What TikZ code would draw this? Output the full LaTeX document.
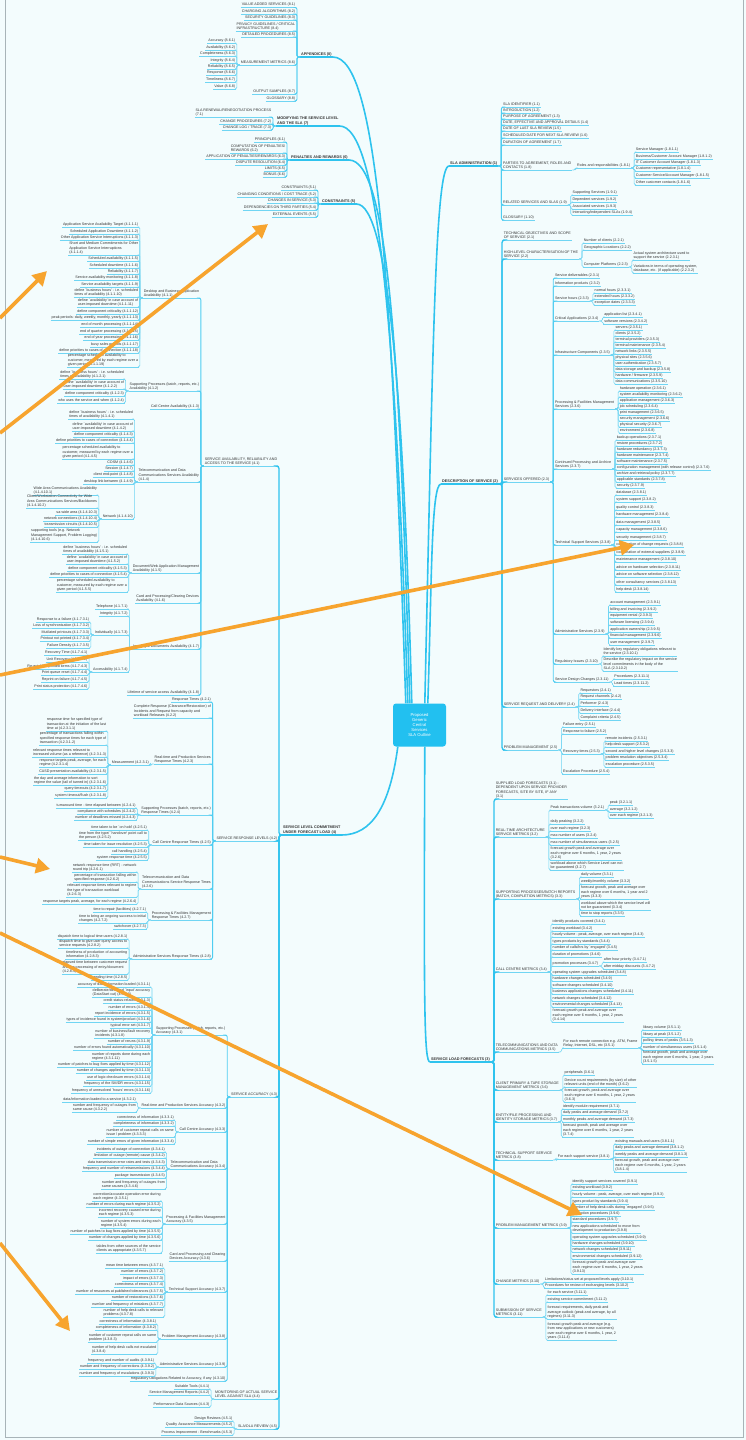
\documentclass[tikz,border=0pt]{standalone}
\usepackage{fontspec}
\newfontfamily\lsans{Liberation Sans}
\usetikzlibrary{calc,arrows.meta}
\definecolor{bg}{HTML}{F3FCFD}
\definecolor{cyA}{HTML}{2EC3EE}
\definecolor{cyB}{HTML}{4FCDF1}
\definecolor{cyC}{HTML}{70D5F3}
\definecolor{ctrfill}{HTML}{22C0F0}
\definecolor{txt}{HTML}{333333}
\definecolor{org}{HTML}{F7A42E}
\definecolor{framec}{HTML}{A8B4B8}
\newcommand\lff{\lsans\fontsize{3.65}{4.4}\selectfont}
\newcommand\mff{\lsans\bfseries\fontsize{3.8}{4.7}\selectfont}
\tikzset{
  ul/.style={draw=cyC, line width=0.6pt},
  lf/.style={inner xsep=0.8pt, inner ysep=0.6pt, font=\lff, text=txt, align=left,
    append after command={(\tikzlastnode.south west) edge[ul] (\tikzlastnode.south east)}},
  mlbl/.style={inner xsep=1pt, inner ysep=0.8pt, font=\mff, text=txt, align=left,
    append after command={(\tikzlastnode.south west) edge[draw=cyA,line width=1.2pt] (\tikzlastnode.south east)}},
  cn/.style={draw=cyC, line width=0.6pt, rounded corners=1.5pt},
  cnB/.style={draw=cyB, line width=0.9pt, rounded corners=2pt},
  cnA/.style={draw=cyA, line width=1.3pt, rounded corners=2.5pt},
  mainc/.style={draw=cyA, line width=1.6pt},
  oarr/.style={draw=org, line width=3.6pt, -{Triangle[length=14pt,width=15pt]}},
  ctrbox/.style={fill=ctrfill, rounded corners=3pt, minimum width=53pt, minimum height=43pt,
    text=white, font=\lsans\fontsize{4.2}{5.2}\selectfont, align=center, inner sep=1pt},
}
\newcounter{kc}
\newcommand\setP[1]{\def\curP{#1}\setcounter{kc}{0}}
\newcommand\kL[3][cn]{\stepcounter{kc}%
  \path (\curP.south west) ++(-3,0) coordinate (tk) (0,#2) coordinate (ty);
  \node[lf,anchor=south east] (\curP-\arabic{kc}) at ($(tk |- ty)+(-0.8,0)$) {#3};
  \draw[#1] (\curP.south west) -- (tk) |- (\curP-\arabic{kc}.south east);}
\newcommand\kR[3][cn]{\stepcounter{kc}%
  \path (\curP.south east) ++(3,0) coordinate (tk) (0,#2) coordinate (ty);
  \node[lf,anchor=south west] (\curP-\arabic{kc}) at ($(tk |- ty)+(0.8,0)$) {#3};
  \draw[#1] (\curP.south east) -- (tk) |- (\curP-\arabic{kc}.south west);}
\begin{document}
\begin{tikzpicture}[x=1pt,y=-1pt]
\path[fill=bg,use as bounding box] (0,0) rectangle (746,1440);
\draw[framec,line width=0.8pt] (5,0) -- (5,1437.5) -- (743,1437.5) -- (743,0);

% centre
\node[ctrbox] (ctr) at (419.5,725) {Proposed\\Generic\\Central\\Services\\SLA Outline};

% main labels
\node[mlbl,anchor=south west] (L8) at (300,57) {APPENDICES (8)};
\node[mlbl,anchor=south west] (L7) at (276,126) {MODIFYING THE SERVICE LEVEL\\AND THE SLA (7)};
\node[mlbl,anchor=south west] (L6) at (290,160) {PENALTIES AND REWARDS (6)};
\node[mlbl,anchor=south west] (L5) at (321,204) {CONSTRAINTS (5)};
\node[mlbl,anchor=south west] (L1) at (449,166) {SLA ADMINISTRATION (1)};
\node[mlbl,anchor=south west] (L2) at (441,484) {DESCRIPTION OF SERVICE (2)};
\node[mlbl,anchor=south west] (L4) at (282,835) {SERVICE LEVEL COMMITMENT\\UNDER FORECAST LOAD (4)};
\node[mlbl,anchor=south west] (L3) at (430,1062) {SERVICE LOAD FORECASTS (3)};

% main connectors
\coordinate (c8) at ($(ctr.north west)+(13,0)$);
\coordinate (c7) at ($(ctr.north west)+(15,0)$);
\coordinate (c6) at ($(ctr.north west)+(17,0)$);
\coordinate (c5) at ($(ctr.north west)+(19,0)$);
\coordinate (c1) at ($(ctr.north west)+(32,0)$);
\coordinate (c2) at ($(ctr.north west)+(35,0)$);
\coordinate (c4) at ($(ctr.south west)+(5,0)$);
\coordinate (c3) at ($(ctr.south west)+(32,0)$);
\draw[mainc] (c8) .. controls +(-14,-420) and +(45,0) .. (L8.south east);
\draw[mainc] (c7) .. controls +(-12,-380) and +(38,0) .. (L7.south east);
\draw[mainc] (c6) .. controls +(-10,-340) and +(40,0) .. (L6.south east);
\draw[mainc] (c5) .. controls +(-8,-300) and +(32,0) .. (L5.south east);
\draw[mainc] (c1) .. controls +(8,-350) and +(-14,0) .. (L1.south west);
\draw[mainc] (c2) .. controls +(4,-120) and +(-10,0) .. (L2.south west);
\draw[mainc] (c4) .. controls +(-8,60) and +(30,0) .. (L4.south east);
\draw[mainc] (c3) .. controls +(-1,260) and +(-6,0) .. (L3.south west);

% ===== (8) =====
\setP{L8}
\kL[cnB]{7.5}{VALUE ADDED SERVICES (8.1)}
\kL[cnB]{14}{CHARGING ALGORITHMS (8.2)}
\kL[cnB]{20}{SECURITY GUIDELINES (8.3)}
\kL[cnB]{31}{PRIVACY GUIDELINES / CRITICAL\\INFRASTRUCTURE (8.4)}
\kL[cnB]{37}{DETAILED PROCEDURES (8.5)}
\kL[cnB]{65}{MEASUREMENT METRICS (8.6)}
\kL[cnB]{94}{OUTPUT SAMPLES (8.7)}
\kL[cnB]{101}{GLOSSARY (8.8)}
\setP{L8-6}
\kL{43}{Accuracy (8.6.1)}
\kL{50}{Availability (8.6.2)}
\kL{56}{Completeness (8.6.3)}
\kL{63}{Integrity (8.6.4)}
\kL{69}{Reliability (8.6.5)}
\kL{75}{Response (8.6.6)}
\kL{82}{Timeliness (8.6.7)}
\kL{89}{Value (8.6.8)}

% ===== (7) =====
\setP{L7}
\kL[cnB]{117}{SLA RENEWAL/RENEGOTIATION PROCESS\\(7.1)}
\kL[cnB]{124}{CHANGE PROCEDURES (7.2)}
\kL[cnB]{130}{CHANGE LOG / TRACE (7.3)}

% ===== (6) =====
\setP{L6}
\kL[cnB]{142}{PRINCIPLES (6.1)}
\kL[cnB]{153}{COMPUTATION OF PENALTIES/\\REWARDS (6.2)}
\kL[cnB]{159}{APPLICATION OF PENALTIES/REWARDS (6.3)}
\kL[cnB]{165}{DISPUTE RESOLUTION (6.4)}
\kL[cnB]{171}{LIMITS (6.5)}
\kL[cnB]{177}{BONUS (6.6)}

% ===== (5) =====
\setP{L5}
\kL[cnB]{190}{CONSTRAINTS (5.1)}
\kL[cnB]{197}{CHANGING CONDITIONS / COST TRACE (5.2)}
\kL[cnB]{203}{CHANGES IN SERVICE (5.3)}
\kL[cnB]{210}{DEPENDENCIES ON THIRD PARTIES (5.4)}
\kL[cnB]{217}{EXTERNAL EVENTS (5.5)}

% ===== (1) =====
\setP{L1}
\kR[cnB]{107}{SLA IDENTIFIER (1.1)}
\kR[cnB]{113}{INTRODUCTION (1.2)}
\kR[cnB]{119}{PURPOSE OF AGREEMENT (1.3)}
\kR[cnB]{125}{DATE, EFFECTIVE AND APPROVAL DETAILS (1.4)}
\kR[cnB]{131}{DATE OF LAST SLA REVIEW (1.5)}
\kR[cnB]{138}{SCHEDULED DATE FOR NEXT SLA REVIEW (1.6)}
\kR[cnB]{145}{DURATION OF AGREEMENT (1.7)}
\kR[cnB]{170}{PARTIES TO AGREEMENT, ROLES AND\\CONTACTS (1.8)}
\kR[cnB]{205}{RELATED SERVICES AND SLAS (1.9)}
\kR[cnB]{220}{GLOSSARY (1.10)}
\setP{L1-8}
\kR{168}{Roles and responsibilities (1.8.1)}
\setP{L1-8-1}
\kR{152}{Service Manager (1.8.1.1)}
\kR{159}{Business/Customer Account Manager (1.8.1.2)}
\kR{165}{IT Customer Account Manager (1.8.1.3)}
\kR{171}{Customer representative (1.8.1.4)}
\kR{178}{Customer Service/Account Manager (1.8.1.5)}
\kR{185}{Other customer contacts (1.8.1.6)}
\setP{L1-9}
\kR{195}{Supporting Services (1.9.1)}
\kR{202}{Dependent services (1.9.2)}
\kR{209}{Associated services (1.9.3)}
\kR{215}{Interacting/independent SLAs (1.9.4)}

% ===== (2) =====
\setP{L2}
\kR[cnA]{240}{TECHNICAL OBJECTIVES AND SCOPE\\OF SERVICE (2.1)}
\kR[cnA]{259}{HIGH-LEVEL CHARACTERISATION OF THE\\SERVICE (2.2)}
\kR[cnA]{482}{SERVICES OFFERED (2.3)}
\kR[cnA]{707}{SERVICE REQUEST AND DELIVERY (2.4)}
\kR[cnA]{750}{PROBLEM MANAGEMENT (2.5)}
\setP{L2-2}
\kR{243}{Number of clients (2.2.1)}
\kR{250}{Geographic Locations (2.2.2)}
\kR{267}{Computer Platforms (2.2.3)}
\setP{L2-2-3}
\kR{260}{Actual system architecture used to\\support the service (2.2.3.1)}
\kR{273}{Variations in terms of operating system,\\database, etc. (if applicable) (2.2.3.2)}
\setP{L2-3}
\kR[cnB]{278}{Service deliverables (2.3.1)}
\kR[cnB]{286}{Information products (2.3.2)}
\kR[cnB]{301}{Service hours (2.3.3)}
\kR[cnB]{321}{Critical Applications (2.3.4)}
\kR[cnB]{355}{Infrastructure Components (2.3.5)}
\kR[cnB]{409}{Processing \& Facilities Management\\Services (2.3.6)}
\kR[cnB]{469}{Continued Processing and Archive\\Services (2.3.7)}
\kR[cnB]{545}{Technical Support Services (2.3.8)}
\kR[cnB]{634}{Administrative Services (2.3.9)}
\kR[cnB]{664}{Regulatory Issues (2.3.10)}
\kR[cnB]{682}{Service Design Changes (2.3.11)}
\setP{L2-3-3}
\kR{293}{normal hours (2.3.3.1)}
\kR{299}{extended hours (2.3.3.2)}
\kR{305}{exception dates (2.3.3.3)}
\setP{L2-3-4}
\kR{317}{application list (2.3.4.1)}
\kR{324}{software versions (2.3.4.2)}
\setP{L2-3-5}
\kR{330}{servers (2.3.5.1)}
\kR{336}{clients (2.3.5.2)}
\kR{342}{terminal providers (2.3.5.3)}
\kR{348}{terminal maintenance (2.3.5.4)}
\kR{354}{network links (2.3.5.5)}
\kR{360}{physical sites (2.3.5.6)}
\kR{366}{user authentication (2.3.5.7)}
\kR{372}{data storage and backup (2.3.5.8)}
\kR{378}{hardware / firmware (2.3.5.9)}
\kR{384}{data communications (2.3.5.10)}
\setP{L2-3-6}
\kR{391}{hardware operation (2.3.6.1)}
\kR{397}{system availability monitoring (2.3.6.2)}
\kR{403}{application management (2.3.6.3)}
\kR{409}{job scheduling (2.3.6.4)}
\kR{415}{print management (2.3.6.5)}
\kR{421}{security management (2.3.6.6)}
\kR{427}{physical security (2.3.6.7)}
\kR{433}{environment (2.3.6.8)}
\setP{L2-3-7}
\kR{440}{backup operations (2.3.7.1)}
\kR{446}{restore procedures (2.3.7.2)}
\kR{452}{hardware redundancy (2.3.7.3)}
\kR{458}{hardware maintenance (2.3.7.4)}
\kR{464}{software maintenance (2.3.7.5)}
\kR{470}{configuration management (with release control) (2.3.7.6)}
\kR{476}{archive and retrieval policy (2.3.7.7)}
\kR{482}{applicable standards (2.3.7.8)}
\kR{488}{security (2.3.7.9)}
\setP{L2-3-8}
\kR{495}{database (2.3.8.1)}
\kR{502}{system support (2.3.8.2)}
\kR{510}{quality control (2.3.8.3)}
\kR{517}{hardware management (2.3.8.4)}
\kR{525}{data management (2.3.8.5)}
\kR{532}{capacity management (2.3.8.6)}
\kR{540}{security management (2.3.8.7)}
\kR{547}{coordination of change requests (2.3.8.8)}
\kR{555}{coordination of external suppliers (2.3.8.9)}
\kR{562}{maintenance management (2.3.8.10)}
\kR{570}{advice on hardware selection (2.3.8.11)}
\kR{577}{advice on software selection (2.3.8.12)}
\kR{585}{other consultancy services (2.3.8.13)}
\kR{592}{help desk (2.3.8.14)}
\setP{L2-3-9}
\kR{605}{account management (2.3.9.1)}
\kR{612}{billing and invoicing (2.3.9.2)}
\kR{618}{equipment rental (2.3.9.3)}
\kR{625}{software licensing (2.3.9.4)}
\kR{632}{application ownership (2.3.9.5)}
\kR{638}{financial management (2.3.9.6)}
\kR{645}{user management (2.3.9.7)}
\setP{L2-3-10}
\kR{656}{Identify key regulatory obligations relevant to\\the service (2.3.10.1)}
\kR{671}{Describe the regulatory impact on the service\\level commitments in the body of the\\SLA (2.3.10.2)}
\setP{L2-3-11}
\kR{679}{Procedures (2.3.11.1)}
\kR{686}{Lead times (2.3.11.2)}
\setP{L2-4}
\kR{693}{Requestors (2.4.1)}
\kR{699}{Request channels (2.4.2)}
\kR{706}{Performer (2.4.3)}
\kR{713}{Delivery interface (2.4.4)}
\kR{720}{Complaint criteria (2.4.5)}
\setP{L2-5}
\kR{727}{Failure entry (2.5.1)}
\kR{734}{Response to failure (2.5.2)}
\kR{754}{Recovery times (2.5.3)}
\kR{774}{Escalation Procedure (2.5.4)}
\setP{L2-5-3}
\kR{741}{remote incidents (2.5.3.1)}
\kR{747}{help desk support (2.5.3.2)}
\kR{754}{second and higher level changes (2.5.3.3)}
\kR{760}{problem resolution objectives (2.5.3.4)}
\kR{767}{escalation procedure (2.5.3.5)}

% ===== (3) =====
\setP{L3}
\kR[cnA]{799}{SUPPLIED LOAD FORECASTS (3.1) -\\DEPENDENT UPON SERVICE PROVIDER\\FORECASTS, SITE BY SITE, IF ANY\\(3.1)}
\kR[cnA]{837}{REAL-TIME ARCHITECTURE\\SERVICE METRICS (3.2)}
\kR[cnA]{899}{SUPPORTING PROCESSES/BATCH REPORTS\\(BATCH, COMPLETION METRICS) (3.3)}
\kR[cnA]{972}{CALL CENTRE METRICS (3.4)}
\kR[cnA]{1052}{TELECOMMUNICATIONS AND DATA\\COMMUNICATIONS METRICS (3.5)}
\kR[cnA]{1090}{CLIENT PRIMARY \& TAPE STORAGE\\MANAGEMENT METRICS (3.6)}
\kR[cnA]{1122}{ENTITY/FILE PROCESSING AND\\IDENTITY STORAGE METRICS (3.7)}
\kR[cnA]{1160}{TECHNICAL SUPPORT SERVICE\\METRICS (3.8)}
\kR[cnA]{1228}{PROBLEM MANAGEMENT METRICS (3.9)}
\kR[cnA]{1284}{CHANGE METRICS (3.10)}
\kR[cnA]{1317}{SUBMISSION OF SERVICE\\METRICS (3.11)}
\setP{L3-2}
\kR{810}{Peak transactions volume (3.2.1)}
\kR{824}{daily peaking (3.2.2)}
\kR{831}{over each regime (3.2.3)}
\kR{838}{max number of users (3.2.4)}
\kR{845}{max number of simultaneous users (3.2.5)}
\kR{860}{forecast growth peak and average over\\each regime over 6 months, 1 year, 2 years\\(3.2.6)}
\kR{870}{workload above which Service Level can not\\be guaranteed (3.2.7)}
\setP{L3-2-1}
\kR{805}{peak (3.2.1.1)}
\kR{812}{average (3.2.1.2)}
\kR{818}{over each regime (3.2.1.3)}
\setP{L3-3}
\kR{877}{daily volume (3.3.1)}
\kR{884}{weekly/monthly volume (3.3.2)}
\kR{899}{forecast growth, peak and average over\\each regime over 6 months, 1 year and 2\\years (3.3.3)}
\kR{910}{workload above which the service level will\\not be guaranteed (3.3.4)}
\kR{916}{time to stop reports (3.3.5)}
\setP{L3-4}
\kR{924}{identify products covered (3.4.1)}
\kR{931}{existing workload (3.4.2)}
\kR{937}{hourly volume - peak, average, over each regime (3.4.3)}
\kR{944}{types products by standards (3.4.4)}
\kR{950}{number of calls/hrs by `engaged' (3.4.5)}
\kR{957}{duration of promotions (3.4.6)}
\kR{966}{promotion processes (3.4.7)}
\kR{975}{operating system upgrades scheduled (3.4.8)}
\kR{981}{hardware changes scheduled (3.4.9)}
\kR{988}{software changes scheduled (3.4.10)}
\kR{994}{business applications changes scheduled (3.4.11)}
\kR{1001}{network changes scheduled (3.4.12)}
\kR{1007}{environmental changes scheduled (3.4.13)}
\kR{1022}{forecast growth peak and average over\\each regime over 6 months, 1 year, 2 years\\(3.4.14)}
\setP{L3-4-7}
\kR{962}{after hour priority (3.4.7.1)}
\kR{969}{after midday discounts (3.4.7.2)}
\setP{L3-5}
\kR{1048}{For each remote connection e.g. ATM, Frame\\Relay, Internet, DSL, etc (3.5.1)}
\setP{L3-5-1}
\kR{1030}{library volume (3.5.1.1)}
\kR{1037}{library at peak (3.5.1.2)}
\kR{1043}{polling times of peaks (3.5.1.3)}
\kR{1050}{number of simultaneous users (3.5.1.4)}
\kR{1064}{forecast growth, peak and average over\\each regime over 6 months, 1 year, 2 years\\(3.5.1.5)}
\setP{L3-6}
\kR{1075}{peripherals (3.6.1)}
\kR{1087}{Device count requirements (by size) of other\\relevant units (end of the month) (3.6.2)}
\kR{1102}{forecast growth, peak and average over\\each regime over 6 months, 1 year, 2 years\\(3.6.3)}
\setP{L3-7}
\kR{1109}{identify module requirement (3.7.1)}
\kR{1115}{daily peaks and average demand (3.7.2)}
\kR{1122}{monthly peaks and average demand (3.7.3)}
\kR{1137}{forecast growth, peak and average over\\each regime over 6 months, 1 year, 2 years\\(3.7.4)}
\setP{L3-8}
\kR{1159}{For each support service (3.8.1)}
\setP{L3-8-1}
\kR{1144}{existing manuals and users (3.8.1.1)}
\kR{1150}{daily peaks and average demand (3.8.1.2)}
\kR{1157}{weekly peaks and average demand (3.8.1.3)}
\kR{1172}{forecast growth, peak and average over\\each regime over 6 months, 1 year, 2 years\\(3.8.1.4)}
\setP{L3-9}
\kR{1184}{identify support services covered (3.9.1)}
\kR{1190}{existing workload (3.9.2)}
\kR{1197}{hourly volume - peak, average, over each regime (3.9.3)}
\kR{1204}{types product by standards (3.9.4)}
\kR{1210}{number of help desk calls during `engaged' (3.9.5)}
\kR{1216}{promotion procedures (3.9.6)}
\kR{1222}{standard procedures (3.9.7)}
\kR{1233}{new applications scheduled to move from\\development to production (3.9.8)}
\kR{1240}{operating system upgrades scheduled (3.9.9)}
\kR{1246}{hardware changes scheduled (3.9.10)}
\kR{1252}{network changes scheduled (3.9.11)}
\kR{1259}{environmental changes scheduled (3.9.12)}
\kR{1274}{forecast growth peak and average over\\each regime over 6 months, 1 year, 2 years\\(3.9.13)}
\setP{L3-10}
\kR{1282}{Limitations/status set at proposed levels apply (3.10.1)}
\kR{1288}{Procedures for review of exchanging levels (3.10.2)}
\setP{L3-11}
\kR{1295}{for each service (3.11.1)}
\kR{1302}{existing service commitment (3.11.2)}
\kR{1319}{forecast requirements, daily peak and\\average outlook (peak and average, by all\\regimes) (3.11.3)}
\kR{1340}{forecast growth peak and average (e.g.\\from new applications or new customers)\\over each regime over 6 months, 1 year, 2\\years (3.11.4)}

% ===== (4) =====
\setP{L4}
\kL[cnA]{466}{SERVICE AVAILABILITY, RELIABILITY AND\\ACCESS TO THE SERVICE (4.1)}
\kL[cnA]{841}{SERVICE RESPONSE LEVELS (4.2)}
\kL[cnA]{1097}{SERVICE ACCURACY (4.3)}
\kL[cnA]{1399}{MONITORING OF ACTUAL SERVICE\\LEVEL AGAINST SLA (4.4)}
\kL[cnA]{1429}{SLA/OLA REVIEW (4.5)}
\setP{L4-1}
\kL[cnB]{298}{Desktop and Business Application\\Availability (4.1.1)}
\kL[cnB]{391}{Supporting Processes (batch, reports, etc.)\\Availability (4.1.2)}
\kL[cnB]{409}{Call Centre Availability (4.1.3)}
\kL[cnB]{482}{Telecommunication and Data\\Communications Services Availability\\(4.1.4)}
\kL[cnB]{573}{Document/Web Application Management\\Availability (4.1.5)}
\kL[cnB]{603}{Card and Processing/Clearing Devices\\Availability (4.1.6)}
\kL[cnB]{649}{Imaging \& Documents Availability (4.1.7)}
\kL[cnB]{695}{Lifetime of service access Availability (4.1.8)}
\setP{L4-1-1}
\kL{227}{Application Service Availability Target (4.1.1.1)}
\kL{234}{Scheduled Application Downtime (4.1.1.2)}
\kL{240}{Other Application Service Interruptions (4.1.1.3)}
\kL{255}{Short and Medium Commitments for Other\\Application Service Interruptions\\(4.1.1.4)}
\kL{261}{Scheduled availability (4.1.1.5)}
\kL{268}{Scheduled downtime (4.1.1.6)}
\kL{274}{Reliability (4.1.1.7)}
\kL{280}{Service availability monitoring (4.1.1.8)}
\kL{287}{Service availability targets (4.1.1.9)}
\kL{297}{define `business hours' - i.e. scheduled\\times of availability (4.1.1.10)}
\kL{307}{define `availability' in case account of\\user-imposed downtime (4.1.1.11)}
\kL{314}{define component criticality (4.1.1.12)}
\kL{320}{peak periods: daily, weekly, monthly, yearly (4.1.1.13)}
\kL{327}{end of month processing (4.1.1.14)}
\kL{334}{end of quarter processing (4.1.1.15)}
\kL{340}{end of year processing (4.1.1.16)}
\kL{347}{busy sales periods (4.1.1.17)}
\kL{353}{define priorities to cases of connection (4.1.1.18)}
\kL{367}{percentage scheduled availability to\\customer, measured by each regime over a\\given period (4.1.1.19)}
\setP{L4-1-2}
\kL{379}{define `business hours' - i.e. scheduled\\times of availability (4.1.2.1)}
\kL{389}{define `availability' in case account of\\user-imposed downtime (4.1.2.2)}
\kL{396}{define component criticality (4.1.2.3)}
\kL{403}{who uses the service and when (4.1.2.4)}
\setP{L4-1-4}
\kL{419}{define `business hours' - i.e. scheduled\\times of availability (4.1.4.1)}
\kL{431}{define `availability' in case account of\\user-imposed downtime (4.1.4.2)}
\kL{437}{define component criticality (4.1.4.3)}
\kL{443}{define priorities to cases of connection (4.1.4.4)}
\kL{459}{percentage scheduled availability to\\customer, measured by each regime over a\\given period (4.1.4.5)}
\kL{465}{COSM (4.1.4.6)}
\kL{471}{Session (4.1.4.7)}
\kL{477}{client end-point (4.1.4.8)}
\kL{484}{desktop link between (4.1.4.9)}
\kL{519}{Network (4.1.4.10)}
\setP{L4-1-4-10}
\kL{495}{Wide Area Communications Availability\\(4.1.4.10.1)}
\kL{508}{Client/Workstation Connectivity for Wide\\Area Communications Services/Backbones\\(4.1.4.10.2)}
\kL{515}{sa-wide area (4.1.4.10.3)}
\kL{521}{network connections (4.1.4.10.4)}
\kL{527}{transmission circuits (4.1.4.10.5)}
\kL{542}{supporting tools (e.g. Network\\Management Support, Problem Logging)\\(4.1.4.10.6)}
\setP{L4-1-5}
\kL{554}{define `business hours' - i.e. scheduled\\times of availability (4.1.5.1)}
\kL{564}{define `availability' in case account of\\user-imposed downtime (4.1.5.2)}
\kL{571}{define component criticality (4.1.5.3)}
\kL{577}{define priorities to cases of connection (4.1.5.4)}
\kL{592}{percentage scheduled availability to\\customer, measured by each regime over a\\given period (4.1.5.5)}
\setP{L4-1-7}
\kL{609}{Telephone (4.1.7.1)}
\kL{616}{Integrity (4.1.7.2)}
\kL{635}{Individually (4.1.7.3)}
\kL{672}{Accessibility (4.1.7.4)}
\setP{L4-1-7-3}
\kL{622}{Response to a failure (4.1.7.3.1)}
\kL{628}{Loss of synchronisation (4.1.7.3.2)}
\kL{635}{Mutilated printouts (4.1.7.3.3)}
\kL{641}{Printout not printed (4.1.7.3.4)}
\kL{648}{Failure Density (4.1.7.3.5)}
\setP{L4-1-7-4}
\kL{655}{Recovery Time (4.1.7.4.1)}
\kL{662}{Unit Recovery (4.1.7.4.2)}
\kL{669}{Re-establish printed items (4.1.7.4.3)}
\kL{675}{Print queue reset (4.1.7.4.4)}
\kL{682}{Reprint on failure (4.1.7.4.5)}
\kL{689}{Print status protection (4.1.7.4.6)}

\setP{L4-2}
\kL[cnB]{702}{Response Times (4.2.1)}
\kL[cnB]{718}{Complete Response (Clearance/Restoration) of\\Incidents and Request from capacity and\\workload Releases (4.2.2)}
\kL[cnB]{764}{Real-time and Production Services\\Response Times (4.2.3)}
\kL[cnB]{815}{Supporting Processes (batch, reports, etc.)\\Response Times (4.2.4)}
\kL[cnB]{845}{Call Centre Response Times (4.2.5)}
\kL[cnB]{889}{Telecommunication and Data\\Communications Service Response Times\\(4.2.6)}
\kL[cnB]{920}{Processing \& Facilities Management\\Response Times (4.2.7)}
\kL[cnB]{959}{Administrative Services Response Times (4.2.8)}
\setP{L4-2-3}
\kL{765}{Measurement (4.2.3.1)}
\setP{L4-2-3-1}
\kL{731}{response time for specified type of\\transaction at the initiation of the last\\time at (4.2.3.1.1)}
\kL{745}{percentage of transactions falling within\\specified response times for each type of\\transaction (4.2.3.1.2)}
\kL{757}{relevant response times relevant to\\increased volume (as a reference) (4.2.3.1.3)}
\kL{767}{response targets peak, average, for each\\regime (4.2.3.1.4)}
\kL{774}{CASD presentation availability (4.2.3.1.5)}
\kL{785}{the day and average information to sort\\regime the value (tail of turned in) (4.2.3.1.6)}
\kL{791}{query timeouts (4.2.3.1.7)}
\kL{798}{system timeout/flush (4.2.3.1.8)}
\setP{L4-2-4}
\kL{808}{turnaround time - time elapsed between (4.2.4.1)}
\kL{814}{compliance with schedules (4.2.4.2)}
\kL{820}{number of deadlines missed (4.2.4.3)}
\setP{L4-2-5}
\kL{830}{time taken to be `on hold' (4.2.5.1)}
\kL{840}{time from the type/ `handover' point call to\\the person (4.2.5.2)}
\kL{847}{time taken for issue resolution (4.2.5.3)}
\kL{854}{call handling (4.2.5.4)}
\kL{860}{system response time (4.2.5.5)}
\setP{L4-2-6}
\kL{872}{network response time (RRT) - network\\round trip (4.2.6.1)}
\kL{882}{percentage of transaction falling within\\specified response (4.2.6.2)}
\kL{897}{relevant response times relevant to regime\\the type of transaction workload\\(4.2.6.3)}
\kL{904}{response targets peak, average, for each regime (4.2.6.4)}
\setP{L4-2-7}
\kL{912}{time to repair (facilities) (4.2.7.1)}
\kL{923}{time to bring an ongoing success to initial\\changes (4.2.7.2)}
\kL{929}{switchover (4.2.7.3)}
\setP{L4-2-8}
\kL{939}{dispatch time to logical time users (4.2.8.1)}
\kL{948}{dispatch time to give user query access to\\service requests (4.2.8.2)}
\kL{959}{timeliness of production of accounting\\information (4.2.8.3)}
\kL{974}{elapsed time between customer request\\and the processing of entry/document\\(4.2.8.4)}
\kL{980}{sending time (4.2.8.5)}

\setP{L4-3}
\kL[cnB]{1035}{Supporting Processes (batch, reports, etc.)\\Accuracy (4.3.1)}
\kL[cnB]{1108}{Real-time and Production Services Accuracy (4.3.2)}
\kL[cnB]{1132}{Call Centre Accuracy (4.3.3)}
\kL[cnB]{1169}{Telecommunication and Data\\Communications Accuracy (4.3.4)}
\kL[cnB]{1224}{Processing \& Facilities Management\\Accuracy (4.3.5)}
\kL[cnB]{1261}{Card and Processing and Clearing\\Devices Accuracy (4.3.6)}
\kL[cnB]{1292}{Technical Support Accuracy (4.3.7)}
\kL[cnB]{1339}{Problem Management Accuracy (4.3.8)}
\kL[cnB]{1367}{Administrative Services Accuracy (4.3.9)}
\kL[cnB]{1381}{Regulatory Obligations Related to Accuracy, if any (4.3.10)}
\setP{L4-3-1}
\kL{987}{accuracy of data/information loaded (4.3.1.1)}
\kL{997}{deliberate/detected `input' accuracy\\(DataStart cut) (4.3.1.2)}
\kL{1003}{credit status-related (4.3.1.3)}
\kL{1010}{number of errors (4.3.1.4)}
\kL{1016}{report incidence of errors (4.3.1.5)}
\kL{1022}{types of incidence found in system/product (4.3.1.6)}
\kL{1028}{typical error set (4.3.1.7)}
\kL{1038}{number of business/fault recovery\\incidents (4.3.1.8)}
\kL{1044}{number of reruns (4.3.1.9)}
\kL{1050}{number of errors found automatically (4.3.1.10)}
\kL{1061}{number of reports done during each\\regime (4.3.1.11)}
\kL{1067}{number of patches to bug fixes applied by time (4.3.1.12)}
\kL{1073}{number of changes applied by time (4.3.1.13)}
\kL{1080}{use of logic checksum errors (4.3.1.14)}
\kL{1086}{frequency of the SM/DR errors (4.3.1.15)}
\kL{1093}{frequency of unresolved `hours' errors (4.3.1.16)}
\setP{L4-3-2}
\kL{1102}{data/information loaded to a service (4.3.2.1)}
\kL{1112}{number and frequency of outages from\\same cause (4.3.2.2)}
\setP{L4-3-3}
\kL{1120}{correctness of information (4.3.3.1)}
\kL{1126}{completeness of information (4.3.3.2)}
\kL{1137}{number of customer repeat calls on same\\issue / problem (4.3.3.3)}
\kL{1144}{number of simple errors of given information (4.3.3.4)}
\setP{L4-3-4}
\kL{1152}{incidents of outage of connection (4.3.4.1)}
\kL{1158}{limitation of outage (remote) cause (4.3.4.2)}
\kL{1165}{data transmission error rates and tests (4.3.4.3)}
\kL{1171}{frequency and number of retransmissions (4.3.4.4)}
\kL{1178}{package transmission (4.3.4.5)}
\kL{1189}{number and frequency of outages from\\same causes (4.3.4.6)}
\setP{L4-3-5}
\kL{1201}{correction/accurate operation error during\\each regime (4.3.5.1)}
\kL{1207}{number of errors during each regime (4.3.5.2)}
\kL{1217}{incorrect recovery caused error during\\each regime (4.3.5.3)}
\kL{1228}{number of system errors during each\\regime (4.3.5.4)}
\kL{1234}{number of patches to bug fixes applied by time (4.3.5.5)}
\kL{1240}{number of changes applied by time (4.3.5.6)}
\kL{1253}{tables from other sources of the service\\clients as appropriate (4.3.5.7)}
\setP{L4-3-7}
\kL{1268}{mean time between errors (4.3.7.1)}
\kL{1274}{number of errors (4.3.7.2)}
\kL{1281}{impact of errors (4.3.7.3)}
\kL{1287}{correctness of errors (4.3.7.4)}
\kL{1294}{number of resources at published tolerances (4.3.7.5)}
\kL{1300}{number of restorations (4.3.7.6)}
\kL{1307}{number and frequency of mistakes (4.3.7.7)}
\kL{1317}{number of help desk calls to relevant\\problems (4.3.7.8)}
\setP{L4-3-8}
\kL{1324}{correctness of information (4.3.8.1)}
\kL{1330}{completeness of information (4.3.8.2)}
\kL{1342}{number of customer repeat calls on same\\problem (4.3.8.3)}
\kL{1354}{number of help desk calls not escalated\\(4.3.8.4)}
\setP{L4-3-9}
\kL{1363}{frequency and number of audits (4.3.9.1)}
\kL{1369}{number and frequency of corrections (4.3.9.2)}
\kL{1376}{number and frequency of escalations (4.3.9.3)}
\setP{L4-4}
\kL{1389}{Suitable Tools (4.4.1)}
\kL{1395}{Service Management Reports (4.4.2)}
\kL{1407}{Performance Data Sources (4.4.3)}
\setP{L4-5}
\kL{1421}{Design Reviews (4.5.1)}
\kL{1427}{Quality Assurance Measurements (4.5.2)}
\kL{1435}{Process Improvement - Benchmarks (4.5.3)}

% ===== orange arrows =====
\coordinate (oa1) at (0,318); \coordinate (ob1) at (47,271);
\coordinate (oa2) at (0,433); \coordinate (ob2) at (268,224);
\coordinate (oa3) at (0,675); \coordinate (ob3) at (634,545);
\coordinate (oa4) at (0,857); \coordinate (ob4) at (50,869);
\coordinate (oa5) at (0,933); \coordinate (ob5) at (582,1215);
\coordinate (oa6) at (0,1243); \coordinate (ob6) at (70,1331);
\draw[oarr] (oa1) -- (ob1);
\draw[oarr] (oa2) -- (ob2);
\draw[oarr] (oa3) -- (ob3);
\draw[oarr] (oa4) -- (ob4);
\draw[oarr] (oa5) -- (ob5);
\draw[oarr] (oa6) -- (ob6);
\end{tikzpicture}
\end{document}
